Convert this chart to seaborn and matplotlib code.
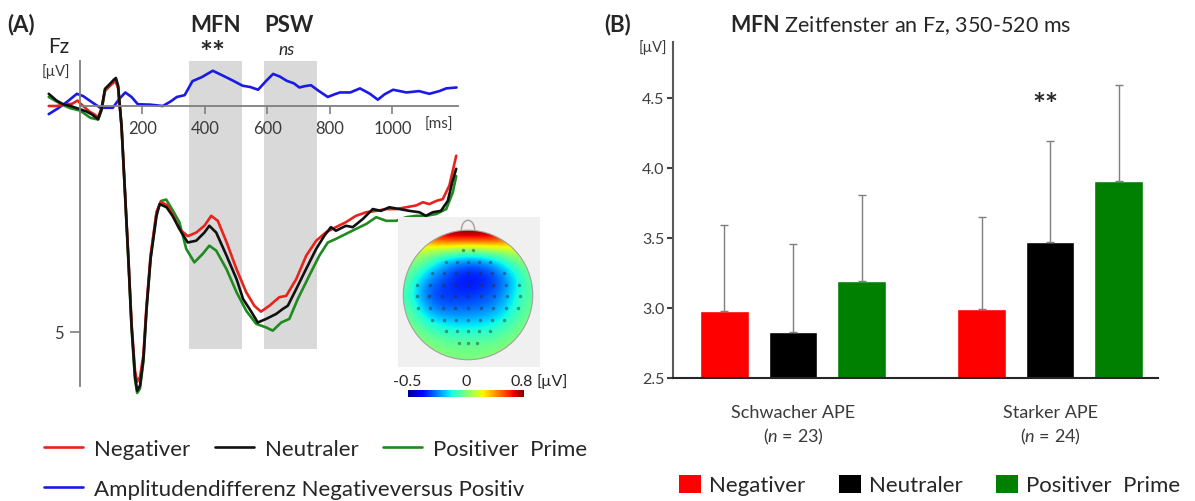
import numpy as np
import pandas as pd
import matplotlib
matplotlib.use("Agg")
import matplotlib.pyplot as plt
import seaborn as sns
from matplotlib.patches import Circle, Arc, Patch
from matplotlib.lines import Line2D

# ---------------- DATA ----------------
# Panel A: ERP at Fz (µV, negative plotted up), time in ms
t_neg = [-100,-75,-50,-25,-8,10,30,45,58,69,80,96,108,113,122,133,144,155,165,176,183,192,203,213,226,245,258,280,300,318,345,372,398,420,441,469,501,532,558,579,606,638,660,692,724,756,788,819,851,883,916,948,980,1012,1044,1076,1097,1118,1140,1161,1182,1204]
v_neg = [0.0,0.0,-0.03,-0.05,-0.12,0.0,0.12,0.18,0.25,0.05,-0.35,-0.45,-0.52,-0.56,-0.4,0.45,1.9,3.35,4.8,5.85,6.1,6.0,5.5,4.4,3.3,2.35,2.12,2.2,2.45,2.72,2.88,2.8,2.65,2.43,2.54,3.01,3.61,4.12,4.42,4.55,4.42,4.23,4.2,3.83,3.31,2.98,2.79,2.68,2.57,2.43,2.35,2.32,2.28,2.28,2.24,2.2,2.13,2.17,2.1,2.06,1.76,1.1]

t_neu = [-100,-75,-54,-30,0,20,37,58,69,80,96,108,115,122,133,144,155,165,176,183,192,203,213,226,245,255,277,296,324,345,372,398,414,436,469,501,522,549,569,596,628,649,665,692,724,756,782,803,819,851,873,905,937,963,990,1022,1054,1086,1107,1129,1155,1177,1191,1204]
v_neu = [-0.27,-0.12,-0.04,0.0,0.07,0.12,0.18,0.29,0.07,-0.38,-0.49,-0.58,-0.62,-0.45,0.44,1.9,3.4,4.86,5.97,6.3,6.19,5.6,4.49,3.38,2.43,2.17,2.24,2.43,2.79,3.02,2.98,2.8,2.65,2.8,3.31,3.83,4.27,4.56,4.79,4.71,4.6,4.49,4.42,4.05,3.6,3.16,2.87,2.68,2.76,2.65,2.68,2.5,2.28,2.32,2.24,2.28,2.32,2.35,2.43,2.35,2.32,2.1,1.69,1.39]

t_pos = [-100,-75,-54,-30,0,33,58,69,80,96,108,115,122,133,144,155,165,176,183,192,203,213,226,245,260,276,296,318,340,366,393,414,436,469,501,532,564,596,617,644,670,697,734,766,793,819,851,883,916,948,980,1012,1044,1076,1107,1140,1172,1193,1204]
v_pos = [-0.2,-0.1,-0.02,0.05,0.1,0.26,0.3,0.1,-0.33,-0.45,-0.55,-0.58,-0.42,0.45,1.95,3.45,4.9,6.05,6.35,6.25,5.65,4.5,3.35,2.35,2.1,2.07,2.3,2.57,3.16,3.46,3.27,3.09,3.2,3.61,4.12,4.53,4.82,4.9,4.97,4.79,4.71,4.27,3.75,3.31,3.02,2.94,2.83,2.72,2.61,2.46,2.54,2.54,2.46,2.43,2.43,2.39,2.28,1.91,1.55]

t_diff = [-100,-70,-40,-10,10,35,65,105,125,145,165,185,225,265,290,310,335,360,390,425,455,490,520,545,570,595,618,640,661,685,702,720,739,765,793,815,832,865,896,928,953,975,1002,1045,1085,1118,1150,1172,1205]
v_diff = [0.18,0.05,-0.1,-0.27,-0.22,-0.1,0.04,0.04,-0.15,-0.3,-0.2,-0.04,-0.03,0.0,-0.1,-0.2,-0.24,-0.55,-0.64,-0.78,-0.68,-0.56,-0.45,-0.42,-0.36,-0.55,-0.71,-0.65,-0.56,-0.5,-0.41,-0.44,-0.46,-0.33,-0.2,-0.26,-0.3,-0.3,-0.39,-0.27,-0.14,-0.26,-0.36,-0.3,-0.33,-0.27,-0.33,-0.39,-0.41]

win_mfn = [350, 520]
win_psw = [588, 757]
x_ticks_A = [200, 400, 600, 800, 1000]
y_ticks_A = [5]

# Topography (values in µV on a 9x9 grid, top row = frontal)
topo = np.array([
    [0.50, 0.60, 0.75, 0.80, 0.80, 0.80, 0.75, 0.60, 0.50],
    [0.30, 0.25, 0.20, 0.15, 0.12, 0.15, 0.20, 0.25, 0.30],
    [0.15, 0.08, -0.10, -0.20, -0.25, -0.22, -0.12, 0.05, 0.15],
    [0.10, -0.12, -0.22, -0.30, -0.33, -0.32, -0.25, -0.10, 0.10],
    [0.05, -0.20, -0.27, -0.28, -0.28, -0.25, -0.20, -0.05, 0.10],
    [0.10, -0.08, -0.20, -0.20, -0.20, -0.18, -0.12, 0.00, 0.12],
    [0.15, 0.05, -0.02, -0.05, -0.06, -0.04, 0.00, 0.08, 0.15],
    [0.18, 0.15, 0.10, 0.08, 0.08, 0.08, 0.10, 0.15, 0.18],
    [0.20, 0.20, 0.18, 0.15, 0.15, 0.15, 0.18, 0.20, 0.20],
])
topo_vmin, topo_vmax = -0.5, 0.8
electrode_rows_y = [0.68, 0.5, 0.33, 0.15, -0.02, -0.2, -0.38, -0.55, -0.72]
electrode_rows_n = [2, 5, 7, 9, 9, 9, 7, 5, 3]

# Panel B: MFN mean amplitudes
groups = ["Schwacher APE\n($n$ = 23)", "Starker APE\n($n$ = 24)"]
primes = ["Negativer", "Neutraler", "Positiver  Prime"]
mean_neg = [2.98, 2.99]
mean_neu = [2.83, 3.47]
mean_pos = [3.19, 3.91]
err_neg = [0.61, 0.66]
err_neu = [0.63, 0.72]
err_pos = [0.62, 0.68]
y_ticks_B = [2.5, 3.0, 3.5, 4.0, 4.5]

# ---------------- STYLE ----------------
sns.set_style("white")
plt.rcParams["font.family"] = ["Lato", "DejaVu Sans"]
plt.rcParams["mathtext.fontset"] = "custom"
plt.rcParams["mathtext.rm"] = "Lato"
plt.rcParams["mathtext.it"] = "Lato:italic"
plt.rcParams["mathtext.bf"] = "Lato:bold"

c_neg, c_neu, c_pos, c_diff = "#e8231c", "#111111", "#1f8a1f", "#1a1ae6"
b_neg, b_neu, b_pos = "#ff0000", "#000000", "#008000"
txt = "#262626"
gray = "#7f7f7f"

W, H = 1195, 502
fig = plt.figure(figsize=(W / 100, H / 100), dpi=100)
fig.patch.set_facecolor("white")

def fx(px):
    return px / W

def fy(py):
    return 1 - py / H

# ---------------- PANEL A ----------------
axA = fig.add_axes([fx(45.6), fy(405.3), 412.5 / W, 348 / H])
axA.set_xlim(-110, 1210)
axA.set_ylim(6.6, -1.1)
axA.set_facecolor("none")

for w in (win_mfn, win_psw):
    axA.fill_between(w, -1.0, 5.38, color="#d9d9d9", lw=0, zorder=0)

sns.lineplot(x=t_diff, y=v_diff, ax=axA, color=c_diff, lw=1.9, estimator=None, sort=False)
sns.lineplot(x=t_pos, y=v_pos, ax=axA, color=c_pos, lw=1.9, estimator=None, sort=False)
sns.lineplot(x=t_neg, y=v_neg, ax=axA, color=c_neg, lw=1.9, estimator=None, sort=False)
sns.lineplot(x=t_neu, y=v_neu, ax=axA, color=c_neu, lw=1.9, estimator=None, sort=False)

for s in ("top", "right"):
    axA.spines[s].set_visible(False)
axA.spines["left"].set_position(("data", 0))
axA.spines["bottom"].set_position(("data", 0))
axA.spines["left"].set_bounds(-1.0, 6.2)
axA.spines["bottom"].set_bounds(0, 1210)
for s in ("left", "bottom"):
    axA.spines[s].set_color(gray)
    axA.spines[s].set_linewidth(1.3)
axA.spines["left"].set_zorder(5)
axA.set_xticks(x_ticks_A)
axA.set_yticks(y_ticks_A)
axA.tick_params(axis="x", bottom=True, direction="out", length=6, width=1.2, color=gray,
                labelsize=12, labelcolor="#3a3a3a", pad=4)
axA.tick_params(axis="y", left=True, direction="out", length=7, width=1.2, color=gray,
                labelsize=12, labelcolor="#3a3a3a", pad=5)
axA.set_xlabel("")
axA.set_ylabel("")

fig.text(fx(7), fy(25), "(A)", ha="left", va="center", size=16, weight="bold", color=txt)
fig.text(fx(216), fy(25), "MFN", ha="center", va="center", size=16, weight="bold", color=txt)
fig.text(fx(289), fy(25), "PSW", ha="center", va="center", size=16, weight="bold", color=txt)
fig.text(fx(212), fy(54), "**", ha="center", va="center", size=22, weight="bold", color=txt)
fig.text(fx(287), fy(50), "ns", ha="center", va="center", size=12.5, style="italic", color=txt)
fig.text(fx(59), fy(47), "Fz", ha="center", va="center", size=15, color=txt)
fig.text(fx(56), fy(72), "[µV]", ha="center", va="center", size=10.5, color="#3a3a3a")
fig.text(fx(439), fy(125), "[ms]", ha="center", va="center", size=11, color="#3a3a3a")

# Topography inset
axT = fig.add_axes([fx(398), fy(368), 142 / W, 150 / H])
axT.set_facecolor("#f0f0f0")
im = axT.imshow(topo, cmap="jet", vmin=topo_vmin, vmax=topo_vmax,
                extent=[-1, 1, -1, 1], interpolation="bicubic", origin="upper")
head = Circle((0, 0), 0.98, transform=axT.transData)
im.set_clip_path(head)
axT.add_patch(Circle((0, 0), 0.98, fill=False, ec="#a0a0a0", lw=0.8))
axT.add_patch(Arc((0, 0.98), 0.2, 0.3, theta1=0, theta2=180, color="#a0a0a0", lw=1.0))
ex, ey = [], []
for yy, n in zip(electrode_rows_y, electrode_rows_n):
    half = 0.78 * np.sqrt(1 - yy ** 2) * (n - 1) / 8 if n > 1 else 0
    for xx in np.linspace(-half, half, n):
        ex.append(xx)
        ey.append(yy)
axT.scatter(ex, ey, s=6, color="#303030", alpha=0.5, lw=0)
axT.set_aspect("auto")
axT.set_xlim(-1.06, 1.09)
axT.set_ylim(-1.09, 1.18)
axT.set_xticks([])
axT.set_yticks([])
for s in axT.spines.values():
    s.set_visible(False)

cax = fig.add_axes([fx(408), fy(398), 116 / W, 7 / H])
cb = fig.colorbar(im, cax=cax, orientation="horizontal")
cb.set_ticks([])
cb.outline.set_visible(False)
fig.text(fx(407), fy(382), "-0.5", ha="center", va="center", size=11.5, color=txt)
fig.text(fx(466), fy(382), "0", ha="center", va="center", size=11.5, color=txt)
fig.text(fx(522), fy(382), "0.8", ha="center", va="center", size=11.5, color=txt)
fig.text(fx(537), fy(382), "[µV]", ha="left", va="center", size=11.5, color=txt)

# Legends A
hA = [Line2D([], [], color=c, lw=1.9) for c in (c_neg, c_neu, c_pos)]
fig.legend(hA, primes, loc="center left", bbox_to_anchor=(fx(44), fy(450)),
           ncol=3, frameon=False, fontsize=16, handlelength=1.75,
           handletextpad=0.5, columnspacing=1.1, borderpad=0, borderaxespad=0,
           labelcolor=txt)
fig.legend([Line2D([], [], color=c_diff, lw=1.9)],
           ["Amplitudendifferenz Negativeversus Positiv"],
           loc="center left", bbox_to_anchor=(fx(44), fy(490)),
           frameon=False, fontsize=16, handlelength=1.75, handletextpad=0.5,
           borderpad=0, borderaxespad=0, labelcolor=txt)

# ---------------- PANEL B ----------------
axB = fig.add_axes([fx(673), fy(379), 485 / W, 336 / H])
df = pd.DataFrame({
    "Gruppe": groups * 3,
    "Prime": [p for p in primes for _ in groups],
    "Wert": mean_neg + mean_neu + mean_pos,
})
sns.barplot(data=df, x="Gruppe", y="Wert", hue="Prime", order=groups, hue_order=primes,
            palette=[b_neg, b_neu, b_pos], saturation=1, width=0.8, gap=0.29,
            errorbar=None, legend=False, ax=axB)
for cont, errs in zip(axB.containers, [err_neg, err_neu, err_pos]):
    for bar, e in zip(cont, errs):
        xc = bar.get_x() + bar.get_width() / 2
        axB.errorbar(xc, bar.get_height(), yerr=[[0], [e]], color=gray, lw=1.0,
                     capsize=3, capthick=1.0, zorder=1)
axB.set_xlim(-0.467, 1.42)
axB.set_ylim(2.5, 4.9)
axB.set_yticks(y_ticks_B)
axB.set_yticklabels([f"{v:.1f}" for v in y_ticks_B])
for s in ("top", "right"):
    axB.spines[s].set_visible(False)
axB.spines["left"].set_color("#595959")
axB.spines["left"].set_linewidth(1.5)
axB.spines["bottom"].set_color(txt)
axB.spines["bottom"].set_linewidth(1.5)
axB.tick_params(axis="y", direction="out", length=4, width=1.5, color="#404040",
                labelsize=11.5, labelcolor="#404040", pad=2, left=True)
axB.tick_params(axis="x", length=0, labelsize=13, labelcolor="#3a3a3a", pad=19)
for lbl in axB.get_xticklabels():
    lbl.set_linespacing(1.35)
axB.set_xlabel("")
axB.set_ylabel("")
axB.text(0.98, 4.45, "**", ha="center", va="center", size=22, weight="bold", color=txt)

fig.text(fx(604), fy(25), "(B)", ha="left", va="center", size=16, weight="bold", color=txt)
fig.text(fx(901), fy(25), r"$\bf{MFN}$ Zeitfenster an Fz, 350-520 ms", ha="center",
         va="center", size=15.5, color=txt)
fig.text(fx(653), fy(48), "[µV]", ha="center", va="center", size=10.5, color="#3a3a3a")

hB = [Patch(facecolor=c, edgecolor="none") for c in (b_neg, b_neu, b_pos)]
fig.legend(hB, primes, loc="center left", bbox_to_anchor=(fx(679), fy(486)), ncol=3,
           frameon=False, fontsize=16, handlelength=1.0, handleheight=0.9,
           handletextpad=0.35, columnspacing=1.5, borderpad=0, borderaxespad=0,
           labelcolor=txt)

fig.savefig("out.png", dpi=100, facecolor="white")
